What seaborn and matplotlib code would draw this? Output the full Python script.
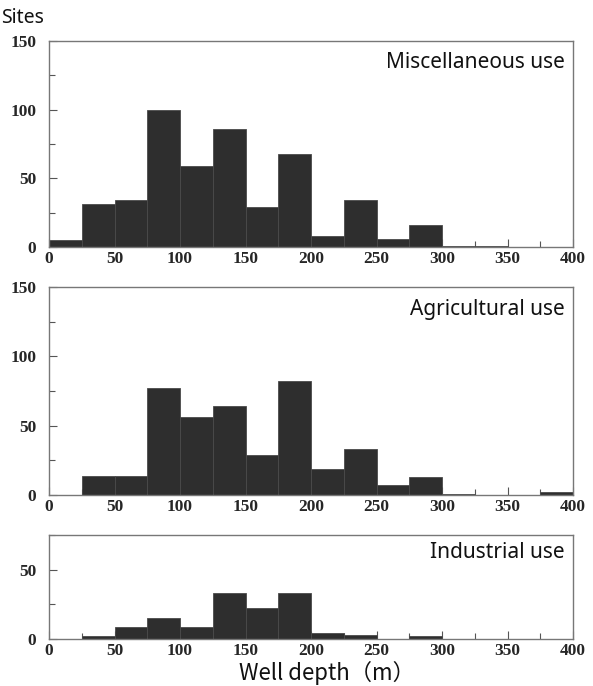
import numpy as np
import pandas as pd
import seaborn as sns
import matplotlib
matplotlib.use("Agg")
import matplotlib.pyplot as plt
from matplotlib.ticker import MultipleLocator

sns.set_style("ticks")

edges = list(range(0, 425, 25))
bin_left = edges[:-1]
misc_counts = [5, 31, 34, 100, 59, 86, 29, 68, 8, 34, 6, 16, 1, 1, 0, 0]
agri_counts = [0, 14, 14, 77, 56, 64, 29, 82, 19, 33, 7, 13, 1, 0, 0, 2]
indu_counts = [0, 2, 9, 15, 9, 33, 22, 33, 4, 3, 0, 2, 0, 0, 0, 0]
panel_labels = ["Miscellaneous use", "Agricultural use", "Industrial use"]
ylims = [150, 150, 75]
x_ticks = [0, 50, 100, 150, 200, 250, 300, 350, 400]

fig = plt.figure(figsize=(5.93, 6.86), dpi=100)
W, H = 593, 686
def pos(l, t, r, b):
    return [l / W, 1 - b / H, (r - l) / W, (b - t) / H]

rects = [pos(49, 41, 573, 247), pos(49, 287, 573, 495), pos(49, 535, 573, 639)]
label_y = [62, 310, 553]
series = [misc_counts, agri_counts, indu_counts]

tick_font = dict(family="Liberation Serif", weight="bold", size=12.5)
for rect, counts, label, ylim, ly in zip(rects, series, panel_labels, ylims, label_y):
    ax = fig.add_axes(rect)
    df = pd.DataFrame({"depth": bin_left, "count": counts})
    sns.histplot(data=df, x="depth", weights="count", bins=edges, ax=ax,
                 color="#2e2e2e", alpha=1.0, edgecolor="#4a4a4a", linewidth=0.6)
    ax.set_xlim(0, 400)
    ax.set_ylim(0, ylim)
    ax.set_xlabel("")
    ax.set_ylabel("")
    ax.xaxis.set_major_locator(MultipleLocator(50))
    ax.xaxis.set_minor_locator(MultipleLocator(25))
    ax.yaxis.set_major_locator(MultipleLocator(50))
    ax.yaxis.set_minor_locator(MultipleLocator(25))
    ax.tick_params(axis="both", which="major", direction="in", length=6, width=0.8,
                   color="#555555", top=False, right=False)
    ax.tick_params(axis="both", which="minor", direction="in", length=4, width=0.8,
                   color="#555555", top=False, right=False)
    ax.set_xticks(x_ticks)
    ax.set_xticklabels([str(v) for v in x_ticks], fontdict=tick_font)
    yt = list(range(0, ylim + 1, 50))
    ax.set_yticks(yt)
    ax.set_yticklabels([str(v) for v in yt], fontdict=tick_font)
    ax.tick_params(axis="x", pad=3)
    ax.tick_params(axis="y", pad=9)
    for s in ax.spines.values():
        s.set_visible(True)
        s.set_color("#777777")
        s.set_linewidth(1.0)
    ax.text(565 / W, 1 - ly / H, label, transform=fig.transFigure,
            ha="right", va="center", fontsize=15, family="Noto Sans", color="#111111")

fig.text(1 / W, 1 - 18 / H, "Sites", fontsize=14, family="Noto Sans",
         ha="left", va="center", color="#111111")
fig.text(327 / W, 1 - 673 / H, "Well depth（m）", fontsize=16,
         family=["Noto Sans CJK JP", "DejaVu Sans"], ha="center", va="center",
         color="#111111")

fig.savefig("out.png", dpi=100)
